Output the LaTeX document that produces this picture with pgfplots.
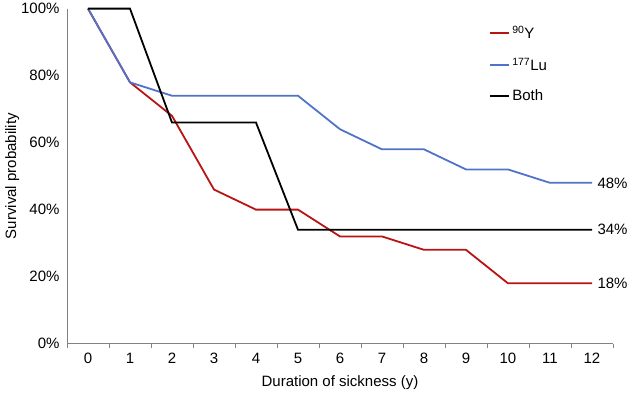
\documentclass[border=0pt]{standalone}
\usepackage{pgfplots}
\pgfplotsset{compat=1.18}
\usepackage{fontspec}
\setmainfont{Liberation Sans}
\definecolor{cred}{RGB}{185,20,20}
\definecolor{cblue}{RGB}{80,115,200}
\definecolor{axgray}{RGB}{130,130,130}
\begin{document}
\begin{tikzpicture}[x=1pt,y=1pt]
\path (-67,-49) rectangle (566,335+8);
\begin{axis}[
  at={(0,0)}, anchor=south west,
  scale only axis, width=546pt, height=335pt,
  xmin=-0.5, xmax=12.5, ymin=0, ymax=100,
  axis x line*=bottom, axis y line*=left,
  axis line style={axgray, line width=0.8pt},
  xtick={0,...,12},
  minor xtick={-0.5,0.5,...,12.5},
  major tick length=0pt,
  minor tick length=4pt,
  tick align=outside,
  tick style={axgray, line width=0.6pt},
  ytick={0,20,...,100},
  yticklabel={\pgfmathprintnumber{\tick}\%},
  /pgf/number format/assume math mode=true,
  ticklabel style={font=\fontsize{15}{17}\selectfont},
  xticklabel style={yshift=-6pt},
  yticklabel style={xshift=-4pt},
  xlabel={Duration of sickness (y)},
  ylabel={Survival probability},
  label style={font=\fontsize{15}{17}\selectfont},
  xlabel style={yshift=-5pt},
  ylabel style={yshift=-5pt},
  legend style={draw=none, fill=none, at={(0.773,0.955)}, anchor=north west,
    font=\fontsize{15}{17}\selectfont, row sep=14pt, inner sep=0pt},
  legend cell align=left,
  legend image code/.code={\draw[#1, line width=2pt] (0pt,0pt) -- (19pt,0pt);},
  clip=false,
]
\addplot[cred, line width=1.8pt] coordinates {
 (0,100) (1,78) (2,68) (3,46) (4,40) (5,40) (6,32) (7,32) (8,28) (9,28) (10,18) (11,18) (12,18)};
\addlegendentry{\textsuperscript{90}Y}
\addplot[cblue, line width=1.8pt] coordinates {
 (0,100) (1,78) (2,74) (3,74) (4,74) (5,74) (6,64) (7,58) (8,58) (9,52) (10,52) (11,48) (12,48)};
\addlegendentry{\textsuperscript{177}Lu}
\addplot[black, line width=1.8pt] coordinates {
 (0,100) (1,100) (2,66) (3,66) (4,66) (5,34) (6,34) (7,34) (8,34) (9,34) (10,34) (11,34) (12,34)};
\addlegendentry{Both}
\node[anchor=west, font=\fontsize{15}{17}\selectfont] at (axis cs:12,48) {\hspace{2pt}48\%};
\node[anchor=west, font=\fontsize{15}{17}\selectfont] at (axis cs:12,34) {\hspace{2pt}34\%};
\node[anchor=west, font=\fontsize{15}{17}\selectfont] at (axis cs:12,18) {\hspace{2pt}18\%};
\end{axis}
\end{tikzpicture}
\end{document}
